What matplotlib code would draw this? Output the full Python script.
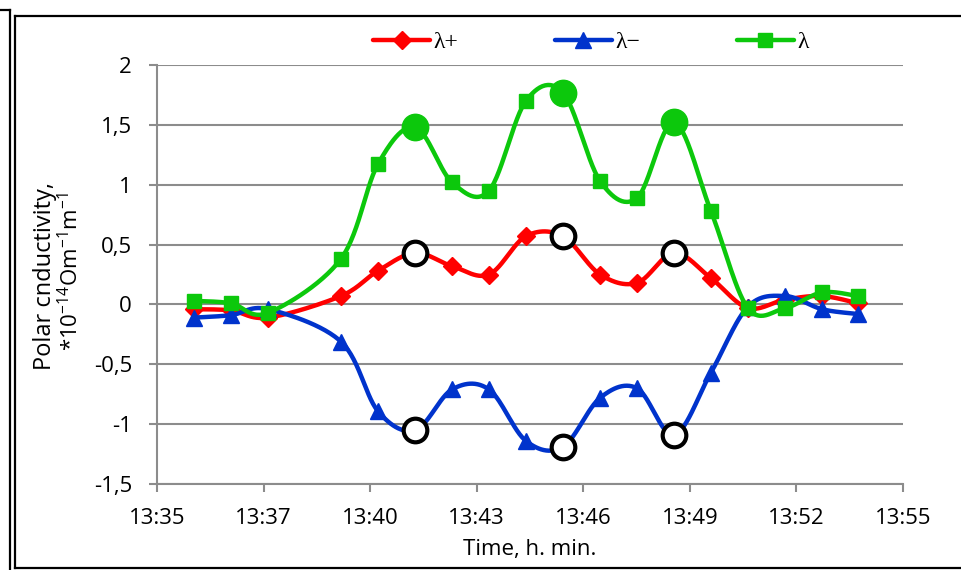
import numpy as np
import matplotlib
matplotlib.use("Agg")
import matplotlib.pyplot as plt
from matplotlib.lines import Line2D

# elapsed minutes after 13:35 for each measurement
minutes = [0.99, 1.98, 2.98, 4.93, 5.92, 6.92, 7.91, 8.90, 9.89,
           10.88, 11.88, 12.87, 13.86, 14.85, 15.84, 16.84, 17.83, 18.79]

lam_plus = [-0.04, -0.05, -0.11, 0.07, 0.28, 0.43, 0.32, 0.25, 0.57,
            0.57, 0.25, 0.18, 0.43, 0.22, -0.03, 0.04, 0.07, 0.01]
lam_minus = [-0.11, -0.09, -0.04, -0.31, -0.89, -1.05, -0.71, -0.71, -1.14,
             -1.19, -0.78, -0.70, -1.09, -0.57, -0.02, 0.07, -0.04, -0.08]
lam_total = [0.03, 0.01, -0.07, 0.38, 1.17, 1.48, 1.02, 0.95, 1.70,
             1.77, 1.03, 0.89, 1.52, 0.78, -0.03, -0.03, 0.10, 0.07]

# points marked with circles (peaks)
peaks = [5, 9, 12]

x_ticks = ['13:35', '13:37', '13:40', '13:43', '13:46', '13:49', '13:52', '13:55']
y_ticks = [-1.5, -1, -0.5, 0, 0.5, 1, 1.5, 2]
y_labels = ['-1,5', '-1', '-0,5', '0', '0,5', '1', '1,5', '2']


def smooth(xs, ys, n=30):
    """Catmull-Rom style bezier smoothing, like spreadsheet smoothed lines"""
    pts = np.column_stack([np.asarray(xs, float), np.asarray(ys, float)])
    out = []
    t = np.linspace(0, 1, n)[:, None]
    for i in range(len(pts) - 1):
        p0 = pts[i - 1] if i > 0 else pts[i]
        p1 = pts[i]
        p2 = pts[i + 1]
        p3 = pts[i + 2] if i + 2 < len(pts) else pts[i + 1]
        c1 = p1 + (p2 - p0) / 6.0
        c2 = p2 - (p3 - p1) / 6.0
        seg = ((1 - t) ** 3) * p1 + 3 * ((1 - t) ** 2) * t * c1 \
            + 3 * (1 - t) * t ** 2 * c2 + t ** 3 * p2
        out.append(seg if i == 0 else seg[1:])
    seg = np.vstack(out)
    return seg[:, 0], seg[:, 1]


plt.rcParams['font.family'] = ['Open Sans', 'DejaVu Sans']
plt.rcParams['mathtext.fontset'] = 'custom'
plt.rcParams['mathtext.rm'] = 'Open Sans'
plt.rcParams['mathtext.it'] = 'Open Sans'

fig = plt.figure(figsize=(9.61, 5.70), dpi=100)
ax = fig.add_axes([157 / 961, 86 / 570, 746 / 961, 419 / 570])

grid_col = '#8c8c8c'
series = [
    (lam_plus, '#ff0000', 'D', 9, u'\u03bb+'),
    (lam_minus, '#0033cc', '^', 11, u'\u03bb\u2212'),
    (lam_total, '#0cc80c', 's', 9.5, u'\u03bb'),
]

handles = []
for k, (vals, col, mk, ms, name) in enumerate(series):
    sx, sy = smooth(minutes, vals)
    ax.plot(sx, sy, color=col, lw=3.2, zorder=3 + k, solid_capstyle='round')
    ax.plot(minutes, vals, ls='none', marker=mk, ms=ms, color=col,
            mec=col, zorder=3 + k)
    handles.append(Line2D([], [], color=col, lw=3.2, marker=mk, ms=ms,
                          solid_capstyle='round'))

# highlighted peaks
px = [minutes[i] for i in peaks]
ax.plot(px, [lam_plus[i] for i in peaks], ls='none', marker='o', ms=17,
        mfc='white', mec='black', mew=3, zorder=8)
ax.plot(px, [lam_minus[i] for i in peaks], ls='none', marker='o', ms=17,
        mfc='white', mec='black', mew=3, zorder=8)
ax.plot(px, [lam_total[i] for i in peaks], ls='none', marker='o', ms=19,
        color='#0cc80c', zorder=8)

ax.set_xlim(0, 20)
ax.set_ylim(-1.5, 2)
ax.set_xticks(np.linspace(0, 20, len(x_ticks)))
ax.set_xticklabels(x_ticks)
ax.set_yticks(y_ticks)
ax.set_yticklabels(y_labels)
ax.yaxis.grid(True, color=grid_col, lw=1.5)
ax.set_axisbelow(True)
for s in ['top', 'right']:
    ax.spines[s].set_visible(False)
for s in ['left', 'bottom']:
    ax.spines[s].set_color(grid_col)
    ax.spines[s].set_linewidth(1.5)
ax.tick_params(axis='both', colors=grid_col, width=1.5, length=6,
               labelsize=16, labelcolor='black')
ax.tick_params(axis='y', pad=12)
ax.tick_params(axis='x', pad=11)

# y axis title, two lines placed by their baselines
fig.text(51 / 961, 1 - 276 / 570, 'Polar cnductivity,', rotation=90,
         rotation_mode='anchor', ha='center', va='baseline', fontsize=17)
fig.text(78 / 961, 1 - 272 / 570, '*10$^{-14}$Om$^{-1}$m$^{-1}$',
         rotation=90, rotation_mode='anchor', ha='center', va='baseline',
         fontsize=16)
fig.text(530 / 961, 1 - 550 / 570, 'Time, h. min.', ha='center',
         va='center', fontsize=16)

leg = fig.legend(handles, [s[4] for s in series], ncol=3,
                 loc='center', bbox_to_anchor=(591 / 961, 1 - 42 / 570),
                 frameon=False, handlelength=2.4, handletextpad=0.15,
                 columnspacing=4.1, fontsize=17)
for txt in leg.get_texts():
    txt.set_fontfamily(['Liberation Serif', 'DejaVu Serif'])

# outer frame lines
frame = dict(color='black', lw=1.6, transform=fig.transFigure)
W, H = 961.0, 570.0
fig.add_artist(Line2D([0, 9.5 / W], [1 - 10 / H, 1 - 10 / H], **frame))
fig.add_artist(Line2D([9.5 / W, 9.5 / W], [1 - 10 / H, 0], **frame))
fig.add_artist(Line2D([15 / W, 15 / W], [1 - 16 / H, 2 / H], **frame))
fig.add_artist(Line2D([15 / W, 1], [1 - 16 / H, 1 - 16 / H], **frame))
fig.add_artist(Line2D([15 / W, 1], [2 / H, 2 / H], **frame))

fig.savefig('out.png', dpi=100)
